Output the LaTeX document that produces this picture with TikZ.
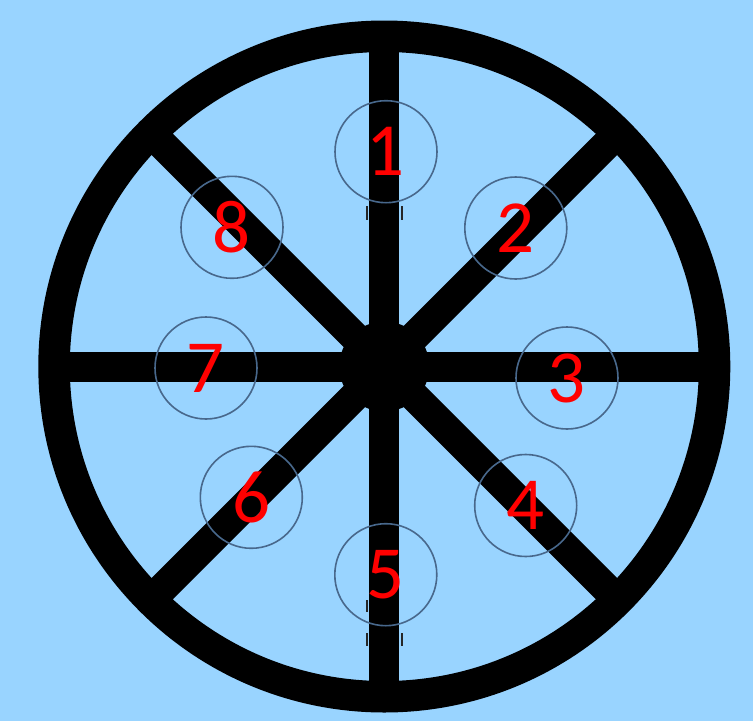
\documentclass[tikz,border=0pt]{standalone}
\usepackage{fontspec}
\setmainfont{Carlito}
\usepackage{xcolor}
\usepackage{tikz}
\definecolor{wheelSky}{RGB}{153,212,255}
\definecolor{spotEdge}{RGB}{72,104,140}
\definecolor{spotRed}{RGB}{255,0,0}
\tikzset{
  rim/.style={line width=31.5},
  spoke/.style={line width=30},
  spotcircle/.style={circle, draw=spotEdge, line width=1.6, minimum size=102, inner sep=0pt,
    text=spotRed, font=\fontsize{75}{80}\selectfont},
  scratch/.style={draw=black!85, line width=2}
}

\begin{document}
\begin{tikzpicture}[x=1pt,y=-1pt]
    \fill[wheelSky] (0,0) rectangle (753,721);
    \useasboundingbox (0,0) rectangle (753,721);

    \coordinate (hubc) at (384.3,366.5);
    \draw[rim] (hubc) circle (330.25);
    \foreach \a in {0,45,...,315}
        \draw[spoke] (hubc) -- ++(\a:330);
    \fill (hubc) circle (45);

    % marks along the vertical spoke
    \foreach \x/\ya/\yb in {366.7/206/220, 402.3/206/220, 366.7/600/612, 366.7/633/646, 402.3/633/646}
        \draw[scratch] (\x,\ya) -- (\x,\yb);

    \node[spotcircle] (spot1) at (386,151.7) {1};
    \node[spotcircle] (spot2) at (515.8,228) {2};
    \node[spotcircle] (spot3) at (567,378) {3};
    \node[spotcircle] (spot4) at (525.7,505.5) {4};
    \node[spotcircle] (spot5) at (385.8,574.7) {5};
    \node[spotcircle] (spot6) at (251.3,497.3) {6};
    \node[spotcircle] (spot7) at (206,368) {7};
    \node[spotcircle] (spot8) at (232,227.3) {8};
\end{tikzpicture}
\end{document}
